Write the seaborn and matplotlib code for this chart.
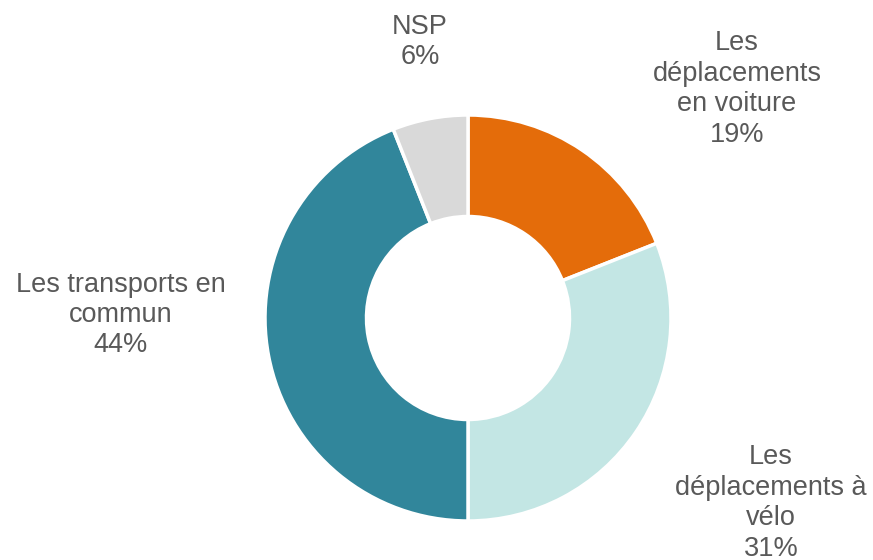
import matplotlib
matplotlib.use("Agg")
import matplotlib.pyplot as plt
import seaborn as sns

categories = ["Les\ndéplacements\nen voiture", "Les\ndéplacements à\nvélo", "Les transports en\ncommun", "NSP"]
values = [19, 31, 44, 6]
colors = ["#E46C0A", "#C3E6E4", "#31869B", "#D9D9D9"]
# label anchor positions (pixels from top-left of figure), centre of text block
label_pos = [(737, 89), (771, 503), (121, 315), (420, 42)]

sns.set_theme(style="white")
plt.rcParams['font.family'] = ['Liberation Sans', 'DejaVu Sans']

W, H = 873, 560
cx, cy, R = 468, 318, 203
fig = plt.figure(figsize=(W / 100, H / 100), dpi=100)
ax = fig.add_axes([0, 0, 1, 1])
ax.set_xlim(-cx, W - cx)
ax.set_ylim(-(H - cy), cy)
ax.set_aspect("equal")
ax.axis("off")

ax.pie(values, colors=colors, startangle=90, counterclock=False, radius=R,
       wedgeprops=dict(width=R * 0.5, edgecolor="white", linewidth=2.5))

for cat, v, (px, py) in zip(categories, values, label_pos):
    ax.text(px - cx, cy - py, f"{cat}\n{v}%", ha="center", va="center",
            fontsize=19.5, color="#595959", linespacing=1.22)

ax.set_xlim(-cx, W - cx)
ax.set_ylim(-(H - cy), cy)
fig.savefig("out.png", dpi=100)
